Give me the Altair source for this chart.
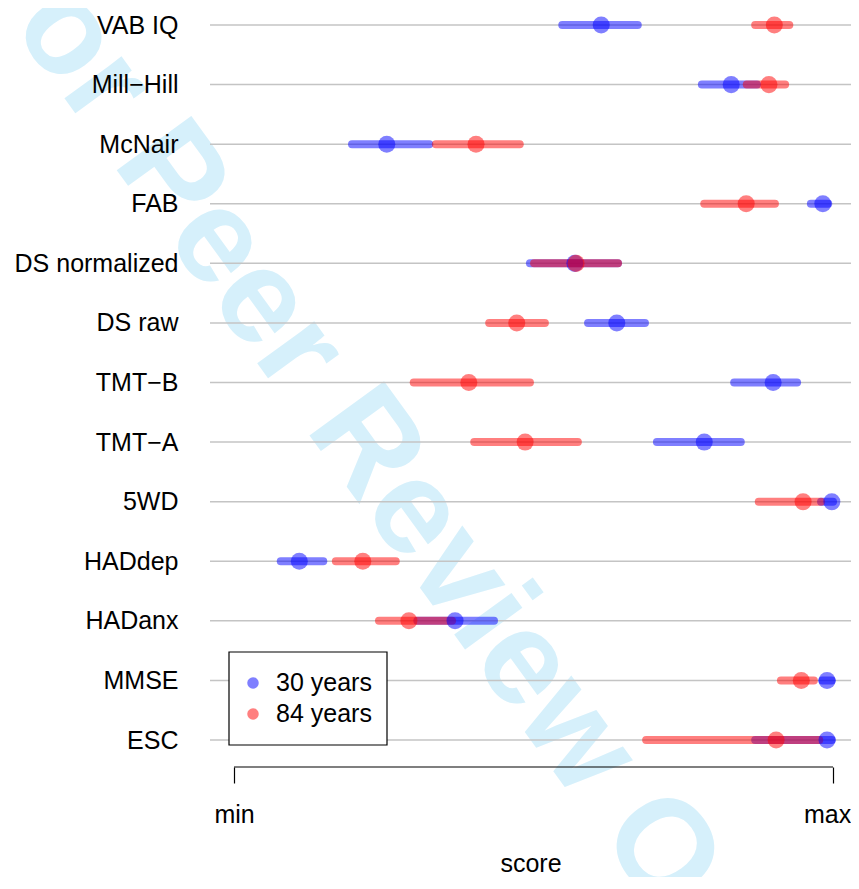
import altair as alt
import pandas as pd

# Tests, top to bottom
tests = ["VAB IQ", "Mill\u2212Hill", "McNair", "FAB", "DS normalized", "DS raw",
         "TMT\u2212B", "TMT\u2212A", "5WD", "HADdep", "HADanx", "MMSE", "ESC"]
groups = ["30 years", "84 years"]
colors = ["#0000ff", "#ff0000"]

# 30 years (blue): mean, lower, upper (score scaled min=0 .. max=1)
young_mean = [0.613, 0.830, 0.255, 0.983, 0.569, 0.639, 0.900, 0.785, 0.998, 0.109, 0.369, 0.990, 0.990]
young_lo   = [0.548, 0.781, 0.197, 0.963, 0.494, 0.591, 0.835, 0.706, 0.980, 0.078, 0.306, 0.982, 0.870]
young_hi   = [0.674, 0.873, 0.326, 0.992, 0.641, 0.686, 0.940, 0.846, 1.000, 0.149, 0.434, 0.998, 0.998]

# 84 years (red)
old_mean = [0.902, 0.893, 0.404, 0.855, 0.571, 0.472, 0.392, 0.486, 0.950, 0.215, 0.292, 0.947, 0.905]
old_lo   = [0.870, 0.856, 0.337, 0.785, 0.501, 0.426, 0.300, 0.401, 0.876, 0.170, 0.242, 0.913, 0.688]
old_hi   = [0.927, 0.920, 0.477, 0.903, 0.641, 0.519, 0.494, 0.574, 0.980, 0.270, 0.364, 0.968, 0.977]

x_ticks = [0, 1]
x_tick_labels = ["min", "max"]
watermark = ["For Peer Review Only"]

n = len(tests)
rows = []
for g, (m, lo, hi) in zip(groups, [(young_mean, young_lo, young_hi), (old_mean, old_lo, old_hi)]):
    for i, t in enumerate(tests):
        rows.append({"test": t, "pos": n - i, "group": g, "grp": g,
                     "mean": m[i], "lo": lo[i], "hi": hi[i]})
df = pd.DataFrame(rows)
grid_df = pd.DataFrame({"pos": [n - i for i in range(n)]})

W, H = 641, 759
xscale = alt.Scale(domain=[-0.0401, 1.030], nice=False, zero=False)
yscale = alt.Scale(domain=[0.547, 13.286], nice=False, zero=False)
cscale = alt.Scale(domain=groups, range=colors)

labels_bottom_up = list(reversed(tests))
label_expr = "[" + ",".join("'" + s + "'" for s in labels_bottom_up) + "][datum.value - 1]"
x_label_expr = "datum.value == 0 ? '" + x_tick_labels[0] + "' : '" + x_tick_labels[1] + "'"

wm = alt.Chart(pd.DataFrame({"t": watermark})).mark_text(
    font="Liberation Sans", fontWeight="bold", fontSize=134, angle=54,
    color="#d6f0fb", align="center", baseline="middle"
).encode(x=alt.value(190), y=alt.value(484), text="t:N")

grid = alt.Chart(grid_df).mark_rule(color="#c4c4c4", strokeWidth=1.5).encode(
    y=alt.Y("pos:Q", scale=yscale), x=alt.value(0), x2=alt.value(W)
)

base = alt.Chart(df)

rules = base.mark_rule(strokeWidth=8, strokeCap="round", opacity=0.5).encode(
    x=alt.X("lo:Q", scale=xscale,
            axis=alt.Axis(values=x_ticks, labelExpr=x_label_expr,
                          domain=False, grid=False, ticks=True, tickSize=16, tickColor="black",
                          tickWidth=1.2, labelPadding=19, labelFontSize=25, labelColor="black",
                          labelOffset=alt.ConditionalAxisNumber(
                              condition={"test": "datum.value == 1", "value": -6}, value=0),
                          title="score", titleFontSize=25, titleFontWeight="normal",
                          titleColor="black", titlePadding=24, labelFlush=False, zindex=1)),
    x2="hi:Q",
    y=alt.Y("pos:Q", scale=yscale,
            axis=alt.Axis(values=list(range(1, n + 1)), labelExpr=label_expr,
                          domain=False, ticks=False, tickSize=0, grid=False,
                          labelPadding=32, labelFontSize=25, labelColor="black",
                          title=None, zindex=1)),
    stroke=alt.Stroke("grp:N", scale=cscale, legend=None),
)

points = base.mark_circle(size=290, opacity=0.5).encode(
    x="mean:Q",
    y="pos:Q",
    color=alt.Color("group:N", scale=cscale, legend=None),
)

axis_line = alt.Chart(pd.DataFrame({"a": [x_ticks[0]], "b": [x_ticks[1]]})).mark_rule(
    color="black", strokeWidth=1.2
).encode(x=alt.X("a:Q", scale=xscale), x2="b:Q", y=alt.value(H))

# Legend box (drawn as marks)
leg_box = alt.Chart(pd.DataFrame({"k": [0]})).mark_rect(
    fill="white", stroke="black", strokeWidth=1.2
).encode(x=alt.value(19), x2=alt.value(177), y=alt.value(644), y2=alt.value(737))

leg_layers = []
for j, (g, c) in enumerate(zip(groups, colors)):
    ld = pd.DataFrame({"label": [g]})
    yy = 675 + 31 * j
    leg_layers.append(alt.Chart(ld).mark_circle(size=133, opacity=0.5, color=c).encode(
        x=alt.value(43), y=alt.value(yy)))
    leg_layers.append(alt.Chart(ld).mark_text(
        fontSize=25, align="left", baseline="middle", color="black").encode(
        x=alt.value(66), y=alt.value(yy), text="label:N"))

chart = alt.layer(wm, grid, rules, points, axis_line, leg_box, *leg_layers).properties(
    width=W, height=H,
    autosize=alt.AutoSizeParams(type="none"),
    padding={"left": 202, "top": 0, "right": 0, "bottom": 110},
).configure(font="Liberation Sans").configure_view(stroke=None)

chart.save("out.html", embed_options={"renderer": "svg", "actions": False})
